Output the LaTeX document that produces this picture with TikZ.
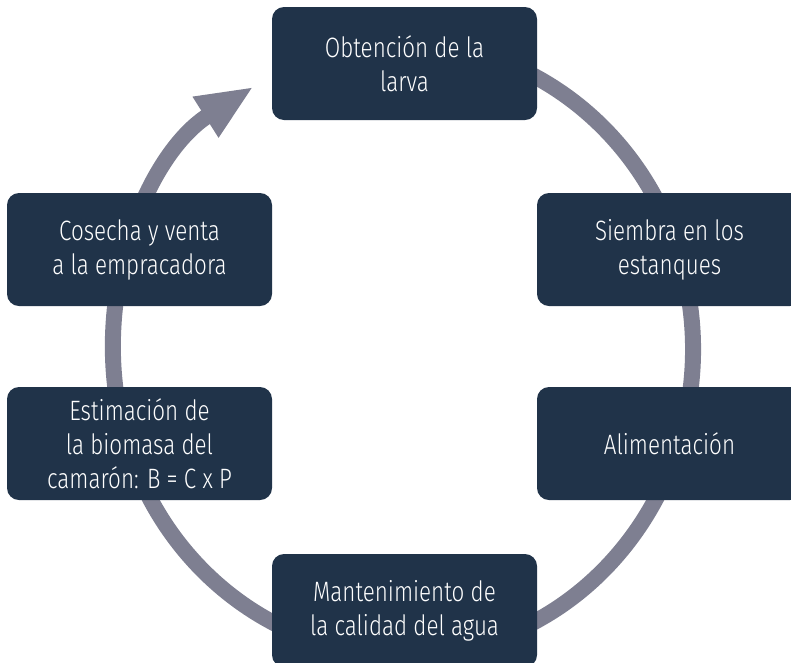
\documentclass[tikz,border=0pt]{standalone}
\usepackage{fontspec}
\setmainfont{Fira Sans}[UprightFont={* Light}, FakeStretch=0.8]
\usepackage{tikz}
\usetikzlibrary{arrows.meta}
\definecolor{stagefill}{RGB}{32,51,73}
\definecolor{ringgray}{RGB}{126,127,145}
\tikzstyle{stage}=[fill=stagefill, rounded corners=12pt, minimum width=265pt, minimum height=113pt,
                   inner sep=0, text=white, align=center, font=\fontsize{28}{34}\selectfont]
\tikzstyle{ring}=[draw=ringgray, line width=16pt, -{Triangle[length=57pt, width=44pt]}]

\begin{document}
\begin{tikzpicture}[x=1pt, y=1pt]
        \useasboundingbox (0,0) rectangle (791,-662);
        \clip (0,0) rectangle (791,-662);
        \coordinate (hub) at (403,-349);
        % ring behind the stages
        \draw[ring] ([shift={(100:290pt and 306pt)}]hub) arc[start angle=100, end angle=-239, x radius=290pt, y radius=306pt];
        \node[stage] (Larva)    at (404.5,-63.5)  {Obtención de la\\larva};
        \node[stage] (Siembra)  at (669.5,-249.5) {Siembra en los\\estanques};
        \node[stage] (Alim)     at (669.5,-443.5) {Alimentación};
        \node[stage] (Agua)     at (404.5,-610.5) {Mantenimiento de\\la calidad del agua};
        \node[stage] (Biomasa)  at (139.5,-443.5) {Estimación de\\la biomasa del\\camarón: B = C x P};
        \node[stage] (Cosecha)  at (139.5,-249.5) {Cosecha y venta\\a la empracadora};
    \end{tikzpicture}
\end{document}
